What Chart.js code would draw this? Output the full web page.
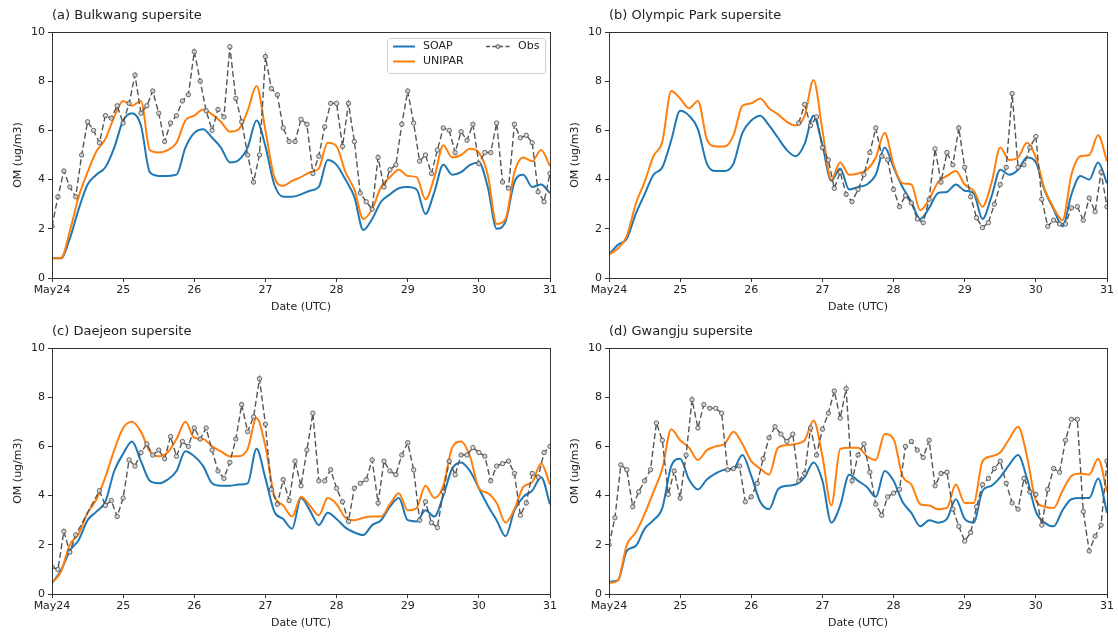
<!DOCTYPE html>
<html lang="en">
<head>
<meta charset="UTF-8" />
<title>OM at four supersites</title>
<script src="https://cdn.jsdelivr.net/npm/chart.js@4.4.0/dist/chart.umd.min.js"></script>
<style>
  body { margin: 0; background: #fff; }
  #fig { position: relative; width: 1118px; height: 635px; }
  canvas { position: absolute; }
</style>
</head>
<body>
<div id="fig">
  <canvas id="pa" width="559" height="316" style="left:0;top:0"></canvas>
  <canvas id="pb" width="559" height="316" style="left:557px;top:0"></canvas>
  <canvas id="pc" width="559" height="316" style="left:0;top:316px"></canvas>
  <canvas id="pd" width="559" height="316" style="left:557px;top:316px"></canvas>
</div>
<script>
// tick labels for the date axis (one per day, hour 0)
var dayLabels = ['May24', '25', '26', '27', '28', '29', '30', '31'];

// model output read every 3 h, obs every 2 h (hours since May24 00 UTC)
var modelHours = [];
for (var h = 0; h <= 168; h += 3) modelHours.push(h);
var obsHours = [];
for (var h2 = 0; h2 <= 168; h2 += 2) obsHours.push(h2);

// (a) Bulkwang
var soapA = [0.8, 0.8, 1.6, 2.8, 3.8, 4.2, 4.5, 5.3, 6.4, 6.7,
  6.2, 4.3, 4.15, 4.15, 4.2, 5.3, 5.9, 6.05, 5.7, 5.3,
  4.7, 4.8, 5.3, 6.4, 5.35, 3.8, 3.3, 3.3, 3.4, 3.55,
  3.7, 4.8, 4.6, 4.0, 3.3, 1.95, 2.4, 3.1, 3.4, 3.65,
  3.7, 3.6, 2.6, 3.5, 4.6, 4.2, 4.3, 4.6, 4.7, 3.7,
  2.0, 2.3, 3.9, 4.2, 3.7, 3.8, 3.45];
var uniparA = [0.8, 0.8, 1.9, 3.3, 4.3, 5.15, 5.65, 6.55, 7.2, 7.0,
  7.2, 5.2, 5.1, 5.2, 5.5, 6.4, 6.6, 6.85, 6.65, 6.35,
  5.95, 6.05, 6.8, 7.8, 6.0, 4.1, 3.75, 3.95, 4.1, 4.3,
  4.45, 5.5, 5.35, 4.3, 3.6, 2.4, 2.8, 3.7, 4.1, 4.4,
  4.15, 4.1, 3.2, 4.1, 5.4, 4.9, 5.0, 5.25, 5.1, 4.2,
  2.2, 2.4, 4.3, 4.9, 4.75, 5.2, 4.55];
var obsA = [2.1, 3.3, 4.35, 3.7, 3.3, 5.0, 6.35, 6.0, 5.5, 6.6,
  6.5, 7.0, 6.3, 7.1, 8.25, 6.7, 7.0, 7.6, 6.7, 5.55,
  6.3, 6.6, 7.2, 7.45, 9.2, 8.0, 6.8, 6.0, 6.85, 6.55,
  9.4, 7.3, 6.35, 5.0, 3.9, 5.0, 9.0, 7.7, 7.45, 6.1,
  5.55, 5.55, 6.45, 6.25, 4.25, 4.95, 6.15, 7.1, 7.1, 5.35,
  7.1, 5.55, 3.45, 3.1, 2.8, 4.9, 3.7, 4.4, 4.6, 6.25,
  7.6, 6.3, 4.75, 5.0, 4.25, 5.2, 6.1, 6.0, 5.1, 5.95,
  5.6, 6.25, 4.65, 5.1, 5.1, 6.3, 3.9, 3.65, 6.25, 5.7,
  5.8, 5.5, 3.5, 3.1, 4.25];

// (b) Olympic Park
var soapB = [0.95, 1.35, 1.6, 2.6, 3.4, 4.2, 4.5, 5.6, 6.8, 6.6,
  6.05, 4.65, 4.35, 4.35, 4.65, 5.9, 6.4, 6.6, 6.2, 5.7,
  5.2, 4.95, 5.45, 6.6, 5.4, 3.95, 4.45, 3.6, 3.7, 3.8,
  4.2, 5.3, 4.5, 3.7, 3.1, 2.4, 2.85, 3.45, 3.5, 3.8,
  3.55, 3.45, 2.4, 3.3, 4.4, 4.2, 4.4, 4.9, 4.7, 3.55,
  2.8, 2.1, 3.4, 4.15, 4.0, 4.7, 3.85];
var uniparB = [0.95, 1.2, 1.7, 3.0, 3.9, 4.95, 5.55, 7.6, 7.3, 6.9,
  7.2, 5.65, 5.35, 5.35, 5.8, 7.0, 7.1, 7.3, 6.9, 6.65,
  6.35, 6.2, 6.6, 8.05, 6.0, 4.0, 4.7, 4.2, 4.25, 4.4,
  4.9, 5.9, 4.6, 3.85, 3.8, 2.75, 3.2, 3.9, 4.15, 4.35,
  3.8, 3.55, 2.9, 3.85, 5.3, 4.8, 4.9, 5.5, 4.9, 3.6,
  2.85, 2.35, 4.2, 4.95, 5.0, 5.8, 4.75];
var obsB = [null, null, null, null, null, null, null, null, null, null,
  null, null, null, null, null, null, null, null, null, null,
  null, null, null, null, null, null, null, null, null, null,
  null, null,
  6.3, 7.05, 6.2, 6.55, 5.3, 4.8, 3.65, 4.3, 3.4, 3.1,
  3.6, 4.2, 5.1, 6.1, 4.95, 4.8, 3.6, 2.9, 3.35, 3.05,
  2.4, 2.25, 3.2, 5.25, 3.9, 5.1, 4.6, 6.1, 4.5, 3.3,
  2.45, 2.05, 2.25, 3.0, 3.8, 4.5, 7.5, 4.5, 4.6, 5.3,
  5.75, 3.2, 2.1, 2.35, 2.2, 2.2, 2.85, 2.9, 2.35, 3.25,
  2.7, 4.3, 2.9];

// (c) Daejeon
var soapC = [0.45, 0.95, 1.75, 2.2, 3.0, 3.35, 3.75, 5.0, 5.7, 6.2,
  5.4, 4.6, 4.5, 4.65, 5.0, 5.8, 5.6, 5.2, 4.5, 4.4,
  4.4, 4.45, 4.5, 5.9, 4.7, 3.35, 3.05, 2.65, 3.9, 3.4,
  2.8, 3.3, 3.05, 2.7, 2.5, 2.4, 2.8, 3.0, 3.55, 3.9,
  3.0, 2.95, 3.4, 3.15, 4.0, 5.1, 5.35, 5.0, 4.3, 3.6,
  3.0, 2.35, 3.4, 3.95, 4.2, 4.75, 3.65];
var uniparC = [0.45, 0.9, 2.0, 2.45, 3.3, 3.85, 4.75, 5.85, 6.75, 7.0,
  6.6, 5.8, 5.6, 5.75, 6.3, 7.0, 6.35, 6.3, 6.0, 5.8,
  5.6, 5.6, 5.9, 7.15, 6.0, 4.0, 3.6, 3.15, 3.95, 3.6,
  3.2, 3.9, 3.65, 3.1, 3.0, 3.1, 3.15, 3.15, 3.65, 4.1,
  3.4, 3.5, 4.4, 3.9, 4.4, 5.95, 6.2, 5.6, 4.3, 4.1,
  3.7, 2.9, 3.45, 4.35, 4.55, 5.3, 4.45];
var obsC = [1.1, 1.0, 2.55, 1.7, 2.4, null, null, null, 4.2, 3.6,
  3.8, 3.15, 3.9, 5.45, 5.2, 5.75, 6.1, 5.65, 5.85, 5.5,
  6.4, 5.6, 6.2, 6.0, 6.75, 6.3, 6.75, 5.85, 5.0, 4.7,
  5.35, 6.3, 7.7, 6.6, 7.2, 8.75, 6.9, 4.25, 3.65, 4.65,
  3.8, 5.4, 4.4, 5.85, 7.35, 4.6, 4.6, 5.05, 4.3, 3.75,
  2.95, 4.3, 4.5, 4.65, 5.45, 3.7, 5.4, 5.0, 4.85, 5.65,
  6.15, 5.05, 3.0, 3.75, 2.9, 2.7, 4.15, 5.4, 4.85, 5.65,
  5.65, 5.95, 5.75, 5.6, 4.6, 5.2, 5.3, 5.4, 4.9, 3.2,
  3.7, 4.9, 4.75, 5.75, 6.0];

// (d) Gwangju
var soapD = [0.5, 0.55, 1.75, 1.95, 2.65, 3.0, 3.5, 5.2, 5.5, 4.65,
  4.25, 4.65, 4.9, 5.05, 5.1, 5.65, 4.8, 3.75, 3.45, 4.25,
  4.4, 4.45, 4.75, 5.35, 4.6, 2.9, 3.6, 4.85, 4.6, 4.35,
  3.95, 5.0, 4.6, 3.75, 3.3, 2.75, 3.0, 2.9, 3.05, 3.85,
  3.05, 2.9, 4.2, 4.4, 4.75, 5.25, 5.65, 4.7, 3.35, 2.9,
  2.75, 3.4, 3.85, 3.9, 3.9, 4.7, 3.3];
var uniparD = [0.45, 0.55, 2.0, 2.5, 3.25, 4.15, 5.1, 6.7, 6.25, 5.95,
  5.45, 5.85, 6.0, 6.1, 6.6, 6.1, 5.4, 5.1, 4.85, 5.95,
  6.05, 6.1, 6.25, 7.05, 5.6, 3.6, 5.9, 5.95, 5.95, 5.6,
  5.45, 6.5, 6.3, 4.8, 4.45, 3.65, 3.6, 3.45, 3.5, 4.45,
  3.7, 3.7, 5.4, 5.6, 5.75, 6.3, 6.8, 5.6, 3.8, 3.55,
  3.5, 4.2, 4.8, 4.9, 4.85, 5.5, 4.15];
var obsD = [2.0, 3.1, 5.25, 5.05, 3.55, 4.15, 4.6, 5.05, 6.95, 6.25,
  4.05, 5.0, 3.9, 5.65, 7.9, 6.75, 7.7, 7.55, 7.55, 7.35,
  5.05, 5.1, 5.2, 3.75, 3.95, 4.5, 5.5, 6.35, 6.8, 6.5,
  6.2, 6.5, 4.6, 4.9, 6.75, 5.65, 6.7, 7.35, 8.25, 7.15,
  8.35, 4.6, 5.65, 6.1, 4.95, 3.65, 3.2, 3.95, 4.1, 4.25,
  6.0, 6.2, 5.85, 5.55, 6.25, 4.4, 4.9, 4.95, 3.45, 2.75,
  2.15, 2.5, 3.55, 4.45, 4.7, 5.1, 5.4, 4.5, 3.7, 3.45,
  4.7, 4.15, 4.05, 2.8, 4.25, 5.1, 4.95, 6.25, 7.1, 7.1,
  3.35, 1.75, 2.35, 2.8, 5.4];

var FONT = '"DejaVu Sans", sans-serif';
var SOAP_COLOR = '#1f77b4';
var UNIPAR_COLOR = '#ff7f0e';
var OBS_COLOR = '#555555';

function toXY(xs, ys) {
  return xs.map(function (x, i) { return { x: x, y: ys[i] }; });
}

// frame on all four sides, panel title, and the legend box of panel (a)
var panelDecor = {
  id: 'panelDecor',
  afterDraw: function (chart, args, opts) {
    var ctx = chart.ctx;
    var a = chart.chartArea;
    ctx.save();
    ctx.strokeStyle = '#333';
    ctx.lineWidth = 1;
    ctx.setLineDash([]);
    ctx.strokeRect(Math.round(a.left) + 0.5, Math.round(a.top) + 0.5,
      Math.round(a.right - a.left), Math.round(a.bottom - a.top));

    ctx.fillStyle = '#222';
    ctx.font = '13px ' + FONT;
    ctx.textBaseline = 'middle';
    ctx.textAlign = 'left';
    ctx.fillText(opts.title, a.left, 15.5);

    if (opts.legend) {
      var bx = a.right - 163, by = a.top + 6, bw = 158, bh = 35;
      ctx.fillStyle = 'rgba(255,255,255,0.85)';
      ctx.strokeStyle = '#d0d0d0';
      ctx.lineWidth = 1;
      ctx.beginPath();
      ctx.roundRect(bx + 0.5, by + 0.5, bw, bh, 3);
      ctx.fill();
      ctx.stroke();

      var row1 = a.top + 14.5, row2 = a.top + 29.5;
      ctx.lineWidth = 2;
      ctx.strokeStyle = SOAP_COLOR;
      ctx.beginPath(); ctx.moveTo(a.right - 157, row1); ctx.lineTo(a.right - 135, row1); ctx.stroke();
      ctx.strokeStyle = UNIPAR_COLOR;
      ctx.beginPath(); ctx.moveTo(a.right - 157, row2); ctx.lineTo(a.right - 135, row2); ctx.stroke();

      ctx.strokeStyle = OBS_COLOR;
      ctx.lineWidth = 1.4;
      ctx.setLineDash([4, 2.5]);
      ctx.beginPath(); ctx.moveTo(a.right - 64, row1); ctx.lineTo(a.right - 40, row1); ctx.stroke();
      ctx.setLineDash([]);
      ctx.fillStyle = 'rgba(200,200,200,0.9)';
      ctx.strokeStyle = '#444';
      ctx.lineWidth = 0.8;
      ctx.beginPath(); ctx.arc(a.right - 52, row1, 2, 0, Math.PI * 2); ctx.fill(); ctx.stroke();

      ctx.fillStyle = '#222';
      ctx.font = '11px ' + FONT;
      ctx.fillText('SOAP', a.right - 127, row1);
      ctx.fillText('UNIPAR', a.right - 127, row2);
      ctx.fillText('Obs', a.right - 32, row1);
    }
    ctx.restore();
  }
};

function makePanel(id, title, soap, unipar, obs, showLegend) {
  var ctx = document.getElementById(id).getContext('2d');
  return new Chart(ctx, {
    type: 'line',
    data: {
      datasets: [{
        label: 'SOAP',
        data: toXY(modelHours, soap),
        borderColor: SOAP_COLOR,
        borderWidth: 2,
        pointRadius: 0,
        cubicInterpolationMode: 'monotone',
        order: 2
      }, {
        label: 'UNIPAR',
        data: toXY(modelHours, unipar),
        borderColor: UNIPAR_COLOR,
        borderWidth: 2,
        pointRadius: 0,
        cubicInterpolationMode: 'monotone',
        order: 1
      }, {
        label: 'Obs',
        data: toXY(obsHours, obs),
        borderColor: OBS_COLOR,
        borderWidth: 1.4,
        borderDash: [6, 3],
        pointRadius: 2.2,
        pointBorderWidth: 0.8,
        pointBorderColor: '#444',
        pointBackgroundColor: 'rgba(215,215,215,0.85)',
        spanGaps: true,
        order: 0
      }]
    },
    options: {
      responsive: false,
      animation: false,
      devicePixelRatio: 1,
      layout: { padding: { left: 0, top: 32, right: 7, bottom: 2 } },
      plugins: {
        legend: { display: false },
        tooltip: { enabled: false },
        panelDecor: { title: title, legend: showLegend }
      },
      scales: {
        x: {
          type: 'linear',
          min: 0,
          max: 168,
          ticks: {
            stepSize: 24,
            maxRotation: 0,
            autoSkip: false,
            padding: 2,
            color: '#222',
            font: { family: FONT, size: 11 },
            callback: function (v) { return dayLabels[Math.round(v / 24)]; }
          },
          grid: { drawOnChartArea: false, drawTicks: true, tickLength: 4, color: '#333' },
          border: { color: '#333' },
          title: {
            display: true, text: 'Date (UTC)', color: '#222',
            font: { family: FONT, size: 11 }, padding: { top: 0, bottom: 0 }
          },
          afterFit: function (s) { s.height = 36; }
        },
        y: {
          min: 0,
          max: 10,
          ticks: {
            stepSize: 2,
            padding: 3,
            color: '#222',
            font: { family: FONT, size: 11 }
          },
          grid: { drawOnChartArea: false, drawTicks: true, tickLength: 4, color: '#333' },
          border: { color: '#333' },
          title: {
            display: true, text: 'OM (ug/m3)', color: '#222',
            font: { family: FONT, size: 11 }, padding: { top: 12, bottom: 0 }
          },
          afterFit: function (s) { s.width = 52; }
        }
      }
    },
    plugins: [panelDecor]
  });
}

makePanel('pa', '(a) Bulkwang supersite', soapA, uniparA, obsA, true);
makePanel('pb', '(b) Olympic Park supersite', soapB, uniparB, obsB, false);
makePanel('pc', '(c) Daejeon supersite', soapC, uniparC, obsC, false);
makePanel('pd', '(d) Gwangju supersite', soapD, uniparD, obsD, false);
</script>
</body>
</html>
